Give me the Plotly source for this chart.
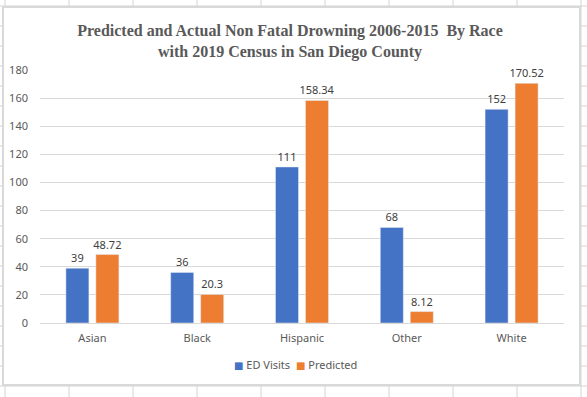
import plotly.graph_objects as go

categories = ["Asian", "Black", "Hispanic", "Other", "White"]
ed_visits = [39, 36, 111, 68, 152]
predicted = [48.72, 20.3, 158.34, 8.12, 170.52]
ed_labels = ["39", "36", "111", "68", "152"]
pred_labels = ["48.72", "20.3", "158.34", "8.12", "170.52"]
series_names = ["ED Visits", "Predicted"]
y_ticks = [0, 20, 40, 60, 80, 100, 120, 140, 160, 180]

W, H = 587, 397
BLUE = "#4472C4"
ORANGE = "#ED7D31"
FONT = "Noto Sans"
CLEAR = "rgba(0,0,0,0)"

def px(x):
    return x / W

def py(y):
    return 1 - y / H

def swatch_name(name, color):
    return (f"<span style='color:{color};font-size:10px;font-family:DejaVu Sans'>■</span>"
            f" {name}")

fig = go.Figure()
fig.add_trace(go.Bar(
    x=categories, y=ed_visits, name=series_names[0], marker_color=BLUE,
    text=ed_labels, textposition="outside", cliponaxis=False, constraintext="none",
    textfont=dict(family=FONT, size=11, color="#404040"), showlegend=False,
    legendgroup="ed",
))
fig.add_trace(go.Bar(
    x=categories, y=predicted, name=series_names[1], marker_color=ORANGE,
    text=pred_labels, textposition="outside", cliponaxis=False, constraintext="none",
    textfont=dict(family=FONT, size=11, color="#404040"), showlegend=False,
    legendgroup="pred",
))
# legend entries: compact swatch drawn as part of the entry text
fig.add_trace(go.Scatter(x=[None], y=[None], mode="markers",
                         name=swatch_name(series_names[0], BLUE), legendgroup="ed",
                         legendwidth=17,
                         marker=dict(size=1, opacity=0, color=CLEAR, line=dict(width=0, color=CLEAR))))
fig.add_trace(go.Scatter(x=[None], y=[None], mode="markers",
                         name=swatch_name(series_names[1], ORANGE), legendgroup="pred",
                         legendwidth=60,
                         marker=dict(size=1, opacity=0, color=CLEAR, line=dict(width=0, color=CLEAR))))

shapes = []
grid_col = "#d4d4d4"
# spreadsheet grid behind chart
for k in range(0, 11):
    xv = 5 + 64 * k
    shapes.append(dict(type="line", xref="paper", yref="paper", x0=px(xv), x1=px(xv),
                       y0=0, y1=1, line=dict(color=grid_col, width=1), layer="below"))
for k in range(0, 21):
    yv = 6 + 20 * k
    shapes.append(dict(type="line", xref="paper", yref="paper", x0=0, x1=1,
                       y0=py(yv), y1=py(yv), line=dict(color=grid_col, width=1), layer="below"))
# chart area
shapes.append(dict(type="rect", xref="paper", yref="paper", x0=px(3), x1=px(580),
                   y0=py(385), y1=py(7), fillcolor="white",
                   line=dict(color="#d9d9d9", width=2), layer="below"))

fig.update_layout(
    width=W, height=H,
    margin=dict(l=0, r=0, t=0, b=0),
    paper_bgcolor="white", plot_bgcolor="rgba(0,0,0,0)",
    shapes=shapes,
    barmode="group", bargap=0.4275, bargroupgap=0.233,
    title=dict(
        text="Predicted and Actual Non Fatal Drowning 2006-2015  By Race<br>with 2019 Census in San Diego County",
        x=px(290), xanchor="center", y=py(36), yanchor="middle",
        font=dict(family="Liberation Serif", size=16, color="#595959", weight="bold"),
    ),
    xaxis=dict(domain=[px(40), px(564)], showgrid=False, showline=False, zeroline=False,
               ticks="", automargin=False, ticklabelstandoff=7,
               tickfont=dict(family=FONT, size=11, color="#595959")),
    yaxis=dict(domain=[py(323), py(70)], range=[0, 180], tickvals=y_ticks,
               showgrid=True, gridcolor="#d9d9d9", gridwidth=1,
               zeroline=True, zerolinecolor="#d9d9d9", zerolinewidth=1,
               showline=False, ticks="", ticklabelstandoff=11, automargin=False,
               tickfont=dict(family=FONT, size=11, color="#595959")),
    legend=dict(orientation="h", x=px(194), xanchor="left", y=py(365), yanchor="middle",
                font=dict(family=FONT, size=11, color="#595959"),
                itemwidth=30, bgcolor="rgba(0,0,0,0)", tracegroupgap=0),
)

fig.write_html("out.html", config={"displayModeBar": False},
               post_script="document.body.style.margin='0px';")
